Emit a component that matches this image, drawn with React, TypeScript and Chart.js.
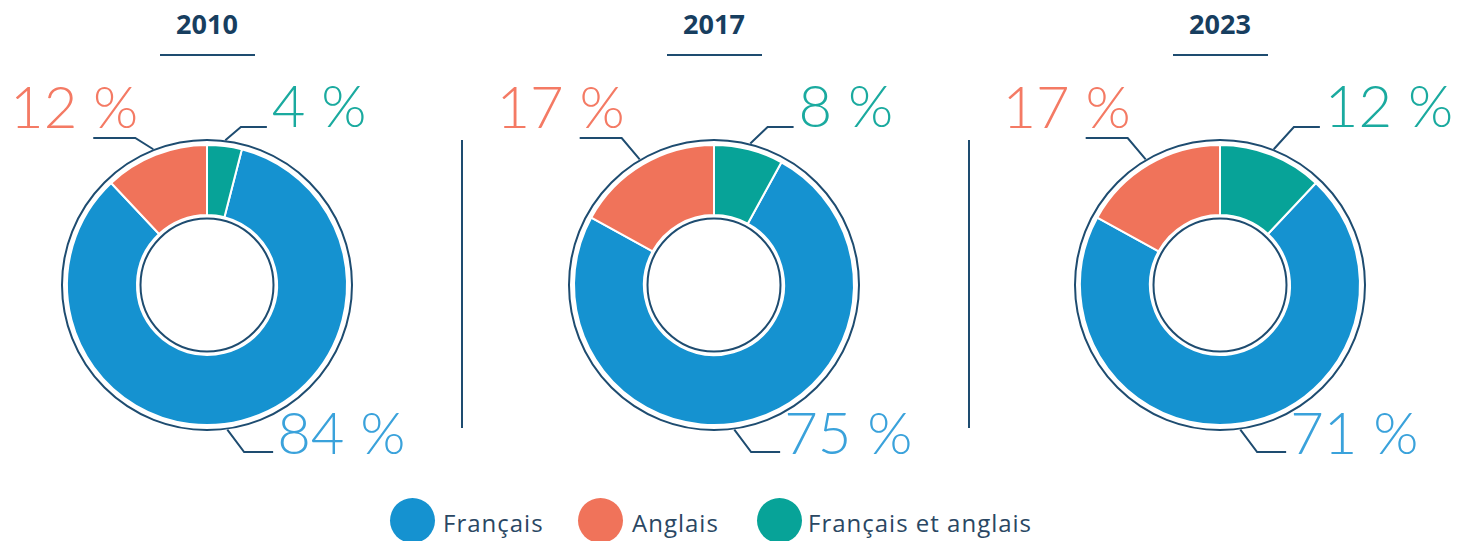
import React, { useEffect, useRef } from "react";
import { Chart, registerables } from "chart.js";

Chart.register(...registerables);

// ---- data ----
const years = ["2010", "2017", "2023"];
const categories = ["Français", "Anglais", "Français et anglais"];
const francais = [84, 75, 71];
const anglais = [12, 17, 17];
const bilingue = [4, 8, 12];

// ---- style ----
const sliceColors = ["#1592D0", "#F0735A", "#07A398"];
const labelColors = ["#3AA2DB", "#F47A64", "#1AAA9F"];
const NAVY = "#1E4C70";
const TITLE_COLOR = "#173E5F";
const LEGEND_TEXT = "#2A4763";

const CENTERS = [207, 714, 1220];
const CY = 285;
const CANVAS_TOP = 60;
const CANVAS_W = 500;
const CANVAS_H = 420;
const SEPARATORS = [461, 968];
const OUTER_R = 140;
const INNER_R = 70;

function Donut({ index }: { index: number }) {
  const ref = useRef<HTMLCanvasElement | null>(null);
  useEffect(() => {
    if (!ref.current) return;
    const values = [francais[index], anglais[index], bilingue[index]];
    const decor = {
      id: "decor",
      afterDatasetsDraw(chart: any) {
        const ctx = chart.ctx as CanvasRenderingContext2D;
        const meta = chart.getDatasetMeta(0);
        const a0 = meta.data[0].getProps(["x", "y", "outerRadius", "innerRadius"], true);
        const cx = a0.x, cy = a0.y;
        const outer = a0.outerRadius, inner = a0.innerRadius;
        ctx.save();
        ctx.strokeStyle = NAVY;
        ctx.lineWidth = 2;
        ctx.beginPath();
        ctx.arc(cx, cy, outer + 5, 0, Math.PI * 2);
        ctx.stroke();
        ctx.beginPath();
        ctx.arc(cx, cy, inner - 3.5, 0, Math.PI * 2);
        ctx.stroke();

        const R = outer + 6;
        const onRing = (a: number) => ({ x: cx + R * Math.cos(a), y: cy + R * Math.sin(a) });
        const mid = (i: number) => {
          const p = meta.data[i].getProps(["startAngle", "endAngle"], true);
          return (p.startAngle + p.endAngle) / 2;
        };
        ctx.font = "300 58px Lato";
        ctx.lineJoin = "miter";

        // Anglais (upper left)
        {
          const p = onRing(mid(1));
          const ky = cy - 147;
          const kx = p.x - 18;
          ctx.beginPath();
          ctx.moveTo(p.x, p.y);
          ctx.lineTo(kx, ky);
          ctx.lineTo(kx - 42, ky);
          ctx.stroke();
          ctx.fillStyle = labelColors[1];
          ctx.textAlign = "right";
          ctx.textBaseline = "alphabetic";
          ctx.fillText(`${values[1]} %`, kx + 3, ky - 10);
        }
        // Français et anglais (upper right)
        {
          const p = onRing(mid(2));
          const ky = cy - 158;
          const kx = p.x + 9 + (p.y - ky) * 0.5;
          ctx.beginPath();
          ctx.moveTo(p.x, p.y);
          ctx.lineTo(kx, ky);
          ctx.lineTo(kx + 26, ky);
          ctx.stroke();
          ctx.fillStyle = labelColors[2];
          ctx.textAlign = "left";
          ctx.fillText(`${values[2]} %`, kx + 31, ky);
        }
        // Français (bottom)
        {
          const p = onRing((82 * Math.PI) / 180);
          const ky = cy + 167;
          const kx = p.x + (ky - p.y) * 0.75;
          ctx.beginPath();
          ctx.moveTo(p.x, p.y);
          ctx.lineTo(kx, ky);
          ctx.lineTo(kx + 29, ky);
          ctx.stroke();
          ctx.fillStyle = labelColors[0];
          ctx.textAlign = "left";
          ctx.fillText(`${values[0]} %`, kx + 33, ky + 2);
        }
        ctx.restore();
      },
    };
    const cyLocal = CY - CANVAS_TOP;
    const chart = new Chart(ref.current, {
      type: "doughnut",
      data: {
        labels: categories,
        datasets: [
          {
            data: values,
            backgroundColor: sliceColors,
            borderColor: "#ffffff",
            borderWidth: 2,
            hoverBorderWidth: 2,
          },
        ],
      },
      options: {
        animation: false,
        responsive: false,
        maintainAspectRatio: false,
        radius: OUTER_R,
        cutout: `${(INNER_R / OUTER_R) * 100}%`,
        rotation: bilingue[index] * 3.6,
        layout: {
          padding: {
            left: CANVAS_W / 2 - 151,
            right: CANVAS_W / 2 - 151,
            top: cyLocal - 151,
            bottom: CANVAS_H - cyLocal - 151,
          },
        },
        plugins: { legend: { display: false }, tooltip: { enabled: false } },
        events: [],
      } as any,
      plugins: [decor],
    });
    return () => chart.destroy();
  }, [index]);

  const cx = CENTERS[index];
  return (
    <>
      <div
        style={{
          position: "absolute",
          left: cx - 100,
          width: 200,
          top: 4,
          height: 40,
          lineHeight: "40px",
          textAlign: "center",
          fontFamily: "'Open Sans', sans-serif",
          fontWeight: 700,
          fontSize: 27,
          color: TITLE_COLOR,
        }}
      >
        {years[index]}
      </div>
      <div
        style={{
          position: "absolute",
          left: cx - 47,
          width: 95,
          top: 54,
          height: 2,
          background: NAVY,
        }}
      />
      <canvas
        ref={ref}
        width={CANVAS_W}
        height={CANVAS_H}
        style={{
          position: "absolute",
          left: cx - CANVAS_W / 2,
          top: CANVAS_TOP,
          width: CANVAS_W,
          height: CANVAS_H,
        }}
      />
    </>
  );
}

const LEGEND_CIRCLES = [390, 578, 757];
const LEGEND_TEXTS = [443, 632, 808];

export default function App() {
  useEffect(() => {
    document.body.style.margin = "0";
  }, []);
  return (
    <div
      style={{
        position: "absolute",
        left: 0,
        top: 0,
        width: 1470,
        height: 541,
        overflow: "hidden",
        background: "#ffffff",
      }}
    >
      {years.map((_, i) => (
        <Donut key={i} index={i} />
      ))}
      {SEPARATORS.map((x, i) => (
        <div
          key={i}
          style={{ position: "absolute", left: x, top: 140, width: 1.5, height: 288, background: NAVY }}
        />
      ))}
      {categories.map((c, i) => (
        <React.Fragment key={c}>
          <div
            style={{
              position: "absolute",
              left: LEGEND_CIRCLES[i],
              top: 498,
              width: 45,
              height: 45,
              borderRadius: "50%",
              background: sliceColors[i],
            }}
          />
          <div
            style={{
              position: "absolute",
              left: LEGEND_TEXTS[i],
              top: 506,
              height: 33,
              lineHeight: "33px",
              fontFamily: "'Open Sans', sans-serif",
              fontSize: 24,
              letterSpacing: 1,
              color: LEGEND_TEXT,
              whiteSpace: "nowrap",
            }}
          >
            {c}
          </div>
        </React.Fragment>
      ))}
    </div>
  );
}
